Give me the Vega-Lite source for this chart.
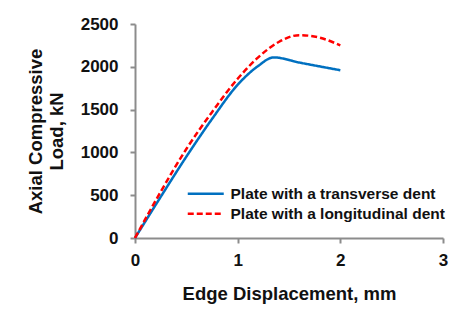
{
  "$schema": "https://vega.github.io/schema/vega-lite/v6.json",
  "autosize": "none",
  "width": 308,
  "height": 214,
  "padding": {"left": 135, "top": 24, "right": 14, "bottom": 82},
  "background": "white",
  "config": {
    "view": {"stroke": null},
    "font": "Liberation Sans",
    "axis": {
      "grid": false,
      "labelFlush": false,
      "domainColor": "#8c8c8c",
      "domainWidth": 2,
      "tickColor": "#8c8c8c",
      "tickWidth": 2,
      "tickSize": 5,
      "labelFont": "Liberation Sans",
      "labelFontWeight": "bold",
      "labelFontSize": 17,
      "labelColor": "#111111",
      "titleFont": "Liberation Sans",
      "titleFontWeight": "bold",
      "titleFontSize": 18.5,
      "titleColor": "#111111"
    }
  },
  "data": {
    "values": [
      {"x": 0, "y": 0, "series": "Plate with a transverse dent"},
      {"x": 0.25, "y": 480, "series": "Plate with a transverse dent"},
      {"x": 0.5, "y": 950, "series": "Plate with a transverse dent"},
      {"x": 0.75, "y": 1390, "series": "Plate with a transverse dent"},
      {"x": 1.0, "y": 1790, "series": "Plate with a transverse dent"},
      {"x": 1.2, "y": 2010, "series": "Plate with a transverse dent"},
      {"x": 1.35, "y": 2110, "series": "Plate with a transverse dent"},
      {"x": 1.6, "y": 2050, "series": "Plate with a transverse dent"},
      {"x": 2.0, "y": 1960, "series": "Plate with a transverse dent"},
      {"x": 0, "y": 0, "series": "Plate with a longitudinal dent"},
      {"x": 0.25, "y": 540, "series": "Plate with a longitudinal dent"},
      {"x": 0.5, "y": 1040, "series": "Plate with a longitudinal dent"},
      {"x": 0.75, "y": 1470, "series": "Plate with a longitudinal dent"},
      {"x": 1.0, "y": 1860, "series": "Plate with a longitudinal dent"},
      {"x": 1.2, "y": 2110, "series": "Plate with a longitudinal dent"},
      {"x": 1.4, "y": 2290, "series": "Plate with a longitudinal dent"},
      {"x": 1.6, "y": 2370, "series": "Plate with a longitudinal dent"},
      {"x": 1.8, "y": 2340, "series": "Plate with a longitudinal dent"},
      {"x": 2.0, "y": 2250, "series": "Plate with a longitudinal dent"}
    ]
  },
  "mark": {"type": "line", "strokeWidth": 2.5, "interpolate": "monotone"},
  "encoding": {
    "x": {
      "field": "x", "type": "quantitative",
      "scale": {"domain": [0, 3], "nice": false},
      "axis": {"values": [0, 1, 2, 3], "format": "d", "title": "Edge Displacement, mm", "labelPadding": 9, "titlePadding": 16}
    },
    "y": {
      "field": "y", "type": "quantitative",
      "scale": {"domain": [0, 2500], "nice": false},
      "axis": {"values": [0, 500, 1000, 1500, 2000, 2500], "format": "d", "title": ["Axial Compressive", "Load, kN"], "labelPadding": 12, "titlePadding": 14, "titleLineHeight": 21}
    },
    "color": {
      "field": "series", "type": "nominal",
      "scale": {"domain": ["Plate with a transverse dent", "Plate with a longitudinal dent"], "range": ["#0070C0", "#FF0000"]},
      "legend": {
        "title": null, "orient": "none", "legendX": 63, "legendY": 162,
        "symbolType": "M-3,0H3", "symbolSize": 144, "symbolStrokeWidth": 2.5,
        "labelFont": "Liberation Sans", "labelFontSize": 15.5, "labelFontWeight": "bold", "labelColor": "#111111",
        "labelOffset": 17, "rowPadding": 3, "labelLimit": 0
      }
    },
    "strokeDash": {
      "field": "series", "type": "nominal",
      "scale": {"domain": ["Plate with a transverse dent", "Plate with a longitudinal dent"], "range": [[1, 0], [6, 3]]},
      "legend": {
        "title": null, "orient": "none", "legendX": 63, "legendY": 162,
        "symbolType": "M-3,0H3", "symbolSize": 144, "symbolStrokeWidth": 2.5,
        "labelFont": "Liberation Sans", "labelFontSize": 15.5, "labelFontWeight": "bold", "labelColor": "#111111",
        "labelOffset": 17, "rowPadding": 3, "labelLimit": 0
      }
    }
  }
}
